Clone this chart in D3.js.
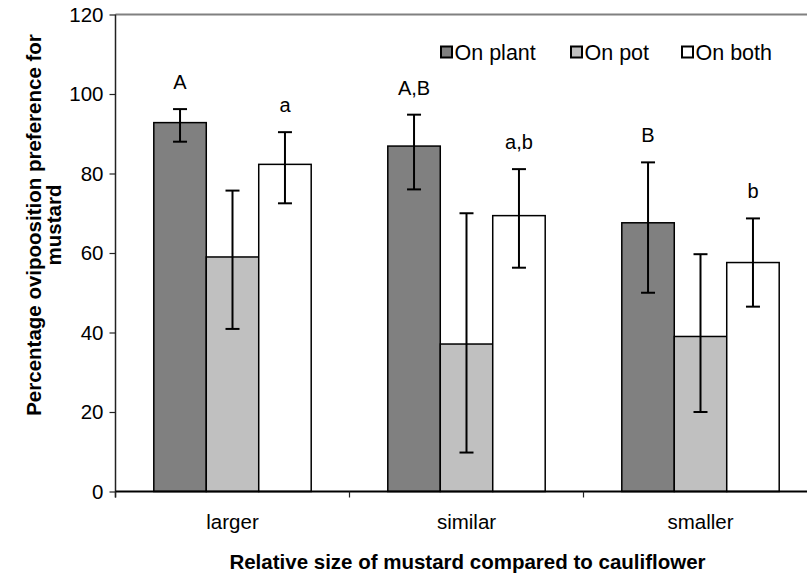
<!DOCTYPE html>
<html>
<head>
<meta charset="utf-8">
<script src="https://cdn.jsdelivr.net/npm/d3@7"></script>
<style>
  body { margin: 0; background: #fff; }
  svg { font-family: Arial, "Liberation Sans", sans-serif; }
</style>
</head>
<body>
<svg id="chart" width="807" height="576"></svg>
<script>
// data
var categories = ["larger", "similar", "smaller"];
var series = ["On plant", "On pot", "On both"];
var plantVals = [92.8, 86.9, 67.6];
var potVals = [59, 37.1, 39];
var bothVals = [82.3, 69.4, 57.6];
var plantLow = [88, 76, 50];
var plantHigh = [96.2, 94.8, 82.8];
var potLow = [40.9, 9.8, 20];
var potHigh = [75.7, 70, 59.7];
var bothLow = [72.5, 56.3, 46.5];
var bothHigh = [90.4, 81.1, 68.7];
var plantLetters = ["A", "A,B", "B"];
var bothLetters = ["a", "a,b", "b"];
var yTicks = [0, 20, 40, 60, 80, 100, 120];

var colors = {"On plant": "#808080", "On pot": "#c0c0c0", "On both": "#ffffff"};

// build rows for drawing
var rows = [];
categories.forEach(function(c, i) {
  rows.push({cat: c, s: "On plant", v: plantVals[i], lo: plantLow[i], hi: plantHigh[i], letter: plantLetters[i]});
  rows.push({cat: c, s: "On pot", v: potVals[i], lo: potLow[i], hi: potHigh[i], letter: ""});
  rows.push({cat: c, s: "On both", v: bothVals[i], lo: bothLow[i], hi: bothHigh[i], letter: bothLetters[i]});
});

// set the dimensions and margins of the graph
var margin = {top: 14.5, left: 115.5},
  width = 702,
  height = 477;

var svg = d3.select("#chart");
var g = svg.append("g")
  .attr("transform", "translate(" + margin.left + "," + margin.top + ")");

// set the ranges
var x0 = d3.scaleBand().domain(categories).range([0, width]).padding(0);
var x1 = d3.scaleBand().domain(series).range([0, x0.bandwidth()]).paddingInner(0).paddingOuter(0.73);
var y = d3.scaleLinear().domain([0, 120]).range([height, 0]);

// top border of the plot area
g.append("line")
  .attr("x1", 0).attr("x2", width)
  .attr("y1", 0).attr("y2", 0)
  .attr("stroke", "#808080")
  .attr("stroke-width", 2);

// bars
g.selectAll("rect.bar")
  .data(rows)
  .enter()
  .append("rect")
  .attr("class", "bar")
  .attr("x", function(d) { return x0(d.cat) + x1(d.s); })
  .attr("y", function(d) { return y(d.v); })
  .attr("width", x1.bandwidth())
  .attr("height", function(d) { return height - y(d.v); })
  .attr("fill", function(d) { return colors[d.s]; })
  .attr("stroke", "#000")
  .attr("stroke-width", 1.5);

// error bars
var errs = g.append("g").attr("class", "errs");
rows.forEach(function(d) {
  var cx = x0(d.cat) + x1(d.s) + x1.bandwidth() / 2;
  errs.append("line")
    .attr("x1", cx).attr("x2", cx)
    .attr("y1", y(d.lo)).attr("y2", y(d.hi))
    .attr("stroke", "#000").attr("stroke-width", 2);
  [d.lo, d.hi].forEach(function(v) {
    errs.append("line")
      .attr("x1", cx - 7).attr("x2", cx + 7)
      .attr("y1", y(v)).attr("y2", y(v))
      .attr("stroke", "#000").attr("stroke-width", 2);
  });
});

// significance letters
g.selectAll("text.letter")
  .data(rows.filter(function(d) { return d.letter; }))
  .enter()
  .append("text")
  .attr("class", "letter")
  .attr("x", function(d) { return x0(d.cat) + x1(d.s) + x1.bandwidth() / 2; })
  .attr("y", function(d) { return y(d.hi) - 20; })
  .attr("text-anchor", "middle")
  .attr("font-size", "20px")
  .text(function(d) { return d.letter; });

// y axis
var yAxis = g.append("g")
  .attr("class", "yAxis")
  .call(d3.axisLeft(y).tickValues(yTicks).tickSize(6).tickPadding(6));
yAxis.selectAll("text").attr("font-size", "20.5px").attr("fill", "#000").attr("font-family", null);
yAxis.selectAll("line").attr("stroke", "#222").attr("stroke-width", 1.2);
yAxis.select(".domain").attr("stroke", "#222").attr("stroke-width", 1.5).attr("d", "M0,0V" + (height + 6));

// x axis
var xAxis = g.append("g")
  .attr("class", "xAxis")
  .attr("transform", "translate(0," + height + ")")
  .call(d3.axisBottom(x0).tickSize(0).tickPadding(23));
xAxis.select(".domain").attr("stroke", "#000").attr("stroke-width", 2).attr("d", "M0,0H" + width);
xAxis.selectAll("text").attr("font-size", "20.5px").attr("fill", "#000").attr("font-family", null);

// category boundary ticks
g.append("g")
  .selectAll("line")
  .data(categories)
  .enter()
  .append("line")
  .attr("x1", function(d) { return x0(d); })
  .attr("x2", function(d) { return x0(d); })
  .attr("y1", height)
  .attr("y2", height + 6)
  .attr("stroke", "#222")
  .attr("stroke-width", 1.2);

// axis titles
svg.append("text")
  .attr("x", margin.left + 352)
  .attr("y", 569)
  .attr("text-anchor", "middle")
  .attr("font-size", "20.5px")
  .attr("font-weight", "bold")
  .text("Relative size of mustard compared to cauliflower");

var yTitle = svg.append("text")
  .attr("transform", "translate(41,225) rotate(-90)")
  .attr("text-anchor", "middle")
  .attr("font-size", "20.5px")
  .attr("font-weight", "bold");
yTitle.append("tspan").attr("x", 0).attr("y", 0).text("Percentage ovipoosition preference for");
yTitle.append("tspan").attr("x", 0).attr("y", 19.5).text("mustard");

// legend
var legend = svg.append("g").attr("class", "legend");
var legendX = [441, 571, 682];
series.forEach(function(s, i) {
  legend.append("rect")
    .attr("x", legendX[i]).attr("y", 46.5)
    .attr("width", 11).attr("height", 11)
    .attr("fill", colors[s])
    .attr("stroke", "#000").attr("stroke-width", 2);
  legend.append("text")
    .attr("x", legendX[i] + 13.5).attr("y", 60)
    .attr("font-size", "21.5px")
    .text(s);
});
</script>
</body>
</html>
